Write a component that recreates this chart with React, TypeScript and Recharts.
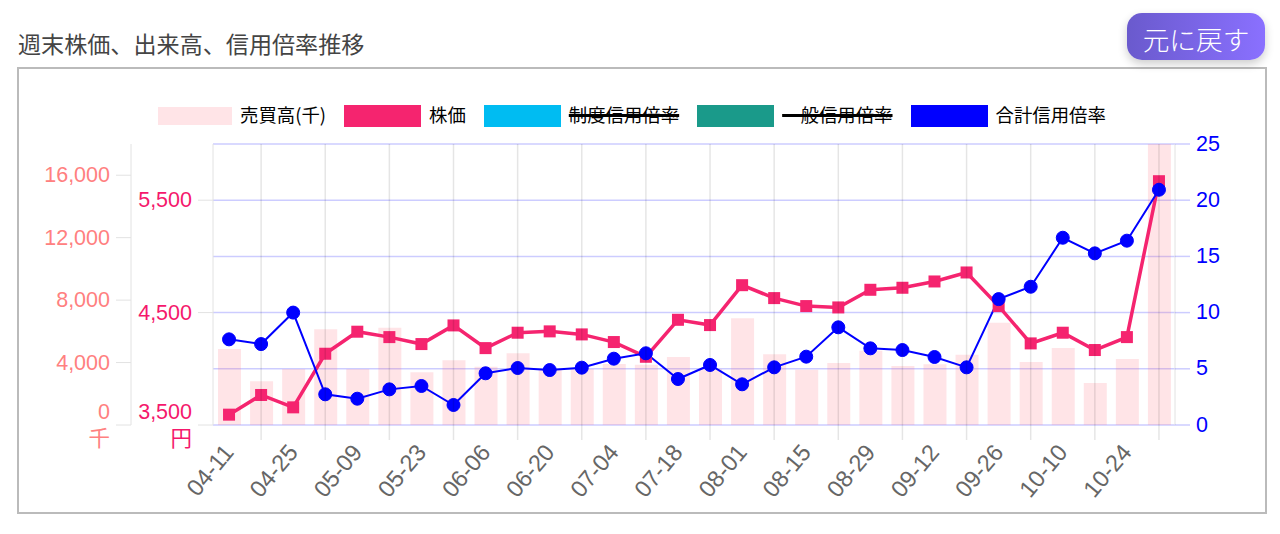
import React from 'react';
import { ComposedChart, Bar, Line, XAxis, YAxis, CartesianGrid, Legend } from 'recharts';

const dates = ['04-11', '04-18', '04-25', '05-02', '05-09', '05-16', '05-23', '05-30', '06-06', '06-13', '06-20', '06-27', '07-04', '07-11', '07-18', '07-25', '08-01', '08-08', '08-15', '08-22', '08-29', '09-05', '09-12', '09-19', '09-26', '10-03', '10-10', '10-17', '10-24', '10-31'];
const volume = [4868, 2797, 3587, 6127, 3587, 6234, 3373, 4142, 3736, 4590, 3587, 3587, 3907, 3864, 4355, 3587, 6832, 4526, 3544, 3971, 4761, 3779, 3886, 4505, 6554, 4035, 4932, 2690, 4227, 18000];
const price = [3592, 3767, 3657, 4134, 4330, 4282, 4220, 4386, 4184, 4321, 4333, 4306, 4238, 4107, 4436, 4389, 4744, 4629, 4558, 4546, 4703, 4721, 4777, 4857, 4558, 4226, 4321, 4167, 4282, 5669];
const totalRatio = [7.62, 7.2, 10.0, 2.73, 2.34, 3.17, 3.47, 1.78, 4.6, 5.07, 4.89, 5.1, 5.9, 6.38, 4.09, 5.34, 3.62, 5.13, 6.08, 8.69, 6.82, 6.67, 6.05, 5.13, 11.2, 12.3, 16.66, 15.27, 16.4, 20.93];

const volumeTicks = [0, 4000, 8000, 12000, 16000];
const priceTicks = [3500, 4500, 5500];
const ratioTicks = [0, 5, 10, 15, 20, 25];

const data = dates.map((d, i) => ({ date: d, volume: volume[i], price: price[i], total: totalRatio[i] }));

const PINK = '#f5246f';
const BLUE = '#0000ff';
const JP = '"Liberation Sans", "Noto Sans CJK JP", sans-serif';
const GREY_LINE = 'rgba(0,0,0,0.1)';

const unitTick = (color: string, unit: string) => (props: any) => {
  const { x, y, payload, index } = props;
  return (
    <text x={x} y={y} textAnchor="end" fill={color} fontSize={21.5} fontFamily={JP}>
      <tspan x={x} dy={index === 0 ? -6 : 7}>{payload.value.toLocaleString('en-US')}</tspan>
      {index === 0 && <tspan x={x} dy={27}>{unit}</tspan>}
    </text>
  );
};

const DateTick = (props: any) => {
  const { x, y, payload, index } = props;
  if (index % 2 === 1) {
    return <line x1={x} x2={x} y1={144} y2={440} stroke={GREY_LINE} strokeWidth={1.5} />;
  }
  return (
    <text
      x={x + 6}
      y={y + 20}
      textAnchor="end"
      fill="#666"
      fontSize={23.5}
      fontFamily={JP}
      transform={`rotate(-50 ${x + 6} ${y + 20})`}
    >
      {payload.value}
    </text>
  );
};

const SquareDot = (props: any) => {
  const { cx, cy, index } = props;
  return <rect key={index} x={cx - 6} y={cy - 6} width={12} height={12} fill={PINK} />;
};

const LegendRow = (props: any) => (
  <div style={{ display: 'flex', alignItems: 'center', fontFamily: '"Noto Sans CJK JP", sans-serif', fontSize: 18.4, color: '#000', lineHeight: '22px' }}>
    {props.payload.map((item: any, i: number) => (
      <div key={i} style={{ display: 'flex', alignItems: 'center', marginRight: 18 }}>
        <span
          style={{
            display: 'inline-block',
            width: i === 0 ? 74 : 77,
            height: i === 0 ? 18 : 22,
            marginRight: 8,
            background: item.color,
            opacity: i === 0 ? 0.18 : 1,
          }}
        />
        <span style={{ position: 'relative', top: -2, textDecoration: item.inactive ? 'line-through' : 'none', textDecorationThickness: 2.5 }}>{item.value}</span>
      </div>
    ))}
  </div>
);

export default function App() {
  return (
    <div style={{ position: 'absolute', left: 0, top: 0, width: 1280, height: 534, background: '#fff', overflow: 'hidden' }}>
      <div style={{ position: 'absolute', left: 18, top: 26, fontFamily: '"Noto Sans CJK JP", sans-serif', fontSize: 23.1, lineHeight: '34px', color: '#444', whiteSpace: 'nowrap' }}>
        週末株価、出来高、信用倍率推移
      </div>
      <div style={{ position: 'absolute', left: 17, top: 67, width: 1246, height: 443, border: '2px solid #bbb' }} />
      <div style={{ position: 'absolute', left: 0, top: 0 }}>
        <ComposedChart
          width={1280}
          height={534}
          data={data}
          barSize={23}
          margin={{ top: 144, right: 0, bottom: 9, left: 31 }}
        >
          <CartesianGrid yAxisId="ratio" vertical={false} stroke="rgba(0,0,255,0.2)" strokeWidth={1.5} />
          <XAxis dataKey="date" height={100} interval={0} axisLine={false} tickLine={false} tick={DateTick} />
          <YAxis
            yAxisId="volume"
            orientation="left"
            width={100}
            domain={[0, 18000]}
            ticks={volumeTicks}
            interval={0}
            allowDataOverflow
            stroke="#e2e2e2"
            tickSize={15}
            tickMargin={6}
            tick={unitTick('#ff8080', '千')}
          />
          <YAxis
            yAxisId="price"
            orientation="left"
            width={82}
            domain={[3500, 6000]}
            ticks={priceTicks}
            interval={0}
            allowDataOverflow
            stroke="#e2e2e2"
            tickSize={15}
            tickMargin={6}
            tick={unitTick('#f5186c', '円')}
          />
          <YAxis
            yAxisId="ratio"
            orientation="right"
            width={105}
            domain={[0, 25]}
            ticks={ratioTicks}
            interval={0}
            axisLine={{ stroke: '#e2e2e2' }}
            tickLine={{ stroke: 'rgba(0,0,255,0.2)', strokeWidth: 1.5 }}
            tickSize={15}
            tickMargin={6}
            tick={{ fill: BLUE, fontSize: 21.5, fontFamily: JP, dy: -1 }}
          />
          <Legend
            layout="horizontal"
            verticalAlign="middle"
            align="center"
            itemSorter={null}
            content={LegendRow}
            wrapperStyle={{ position: 'absolute', left: 158, top: 105, width: 1000 }}
          />
          <Bar yAxisId="volume" dataKey="volume" name="売買高(千)" fill="#ff6b7a" fillOpacity={0.18} isAnimationActive={false} />
          <Line yAxisId="price" dataKey="price" name="株価" stroke={PINK} strokeWidth={3.5} dot={SquareDot} activeDot={false} isAnimationActive={false} />
          <Line yAxisId="ratio" dataKey="seido" name="制度信用倍率" stroke="#00bcf2" hide isAnimationActive={false} />
          <Line yAxisId="ratio" dataKey="ippan" name="一般信用倍率" stroke="#1a9a8a" hide isAnimationActive={false} />
          <Line yAxisId="ratio" dataKey="total" name="合計信用倍率" stroke={BLUE} strokeWidth={2} dot={{ r: 6.5, fill: BLUE, stroke: BLUE, strokeWidth: 1 }} activeDot={false} isAnimationActive={false} />
        </ComposedChart>
      </div>
      <div
        style={{
          position: 'absolute',
          left: 1127,
          top: 13,
          width: 138,
          height: 47,
          borderRadius: 15,
          background: 'linear-gradient(90deg, #6a5acd, #8a70ff)',
          boxShadow: '0 4px 10px rgba(0,0,0,0.2)',
          color: '#fff',
          fontFamily: '"Noto Sans CJK JP", sans-serif',
          fontSize: 26.7,
          fontWeight: 300,
          lineHeight: '51px',
          textAlign: 'center',
        }}
      >
        元に戻す
      </div>
    </div>
  );
}
